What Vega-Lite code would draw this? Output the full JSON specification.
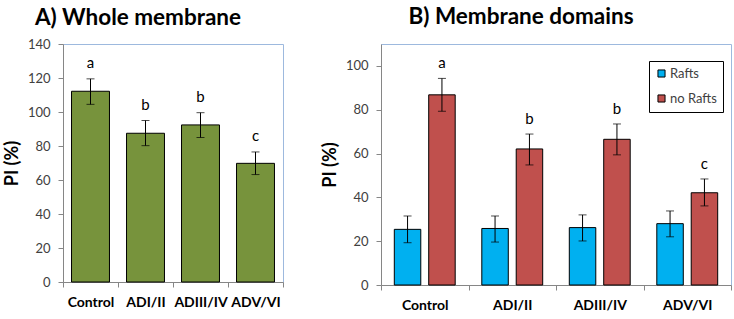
{
  "$schema": "https://vega.github.io/schema/vega-lite/v6.json",
  "background": "white",
  "padding": {"left": 2, "top": 5, "right": 5, "bottom": 5},
  "spacing": 36,
  "resolve": {"scale": {"color": "independent"}, "legend": {"color": "independent"}},
  "config": {
    "font": "Lato",
    "view": {"stroke": "#9DB9DE", "strokeWidth": 1},
    "axis": {"grid": false, "domainColor": "#868686", "tickColor": "#868686", "tickSize": 5, "labelColor": "#404040", "labelOverlap": false},
    "title": {"fontSize": 22.5, "fontWeight": "bold", "color": "#000000", "anchor": "middle", "frame": "group"}
  },
  "hconcat": [
    {
      "title": {"text": "A) Whole membrane", "dx": -35, "offset": 9},
      "width": 220,
      "height": 238,
      "data": {"values": [
        {"group": "Control", "pi": 112.2, "lo": 104.5, "hi": 119.5, "letter": "a"},
        {"group": "ADI/II", "pi": 87.5, "lo": 80.2, "hi": 95.0, "letter": "b"},
        {"group": "ADIII/IV", "pi": 92.4, "lo": 85.0, "hi": 99.6, "letter": "b"},
        {"group": "ADV/VI", "pi": 69.8, "lo": 63.2, "hi": 76.5, "letter": "c"}
      ]},
      "encoding": {
        "x": {"field": "group", "type": "nominal", "sort": null,
          "scale": {"paddingInner": 0, "paddingOuter": 0},
          "axis": {"title": null, "labelAngle": 0, "tickBand": "extent", "labelFontSize": 14, "labelFontWeight": "bold", "labelColor": "#000000", "labelPadding": 8}}
      },
      "layer": [
        {
          "mark": {"type": "bar", "color": "#77933C", "stroke": "#000000", "strokeWidth": 1, "width": {"band": 0.69}},
          "encoding": {
            "y": {"field": "pi", "type": "quantitative",
              "scale": {"domain": [0, 140], "nice": false},
              "axis": {"values": [0, 20, 40, 60, 80, 100, 120, 140], "title": "PI (%)", "titleFontSize": 18, "titleFontWeight": "bold", "titleColor": "#000000", "labelFontSize": 13, "titlePadding": 6, "labelPadding": 8, "labelOverlap": false}}
          }
        },
        {
          "mark": {"type": "rule", "color": "#000000", "strokeWidth": 1},
          "encoding": {"y": {"field": "lo", "type": "quantitative", "axis": {"values": [0, 20, 40, 60, 80, 100, 120, 140], "title": "PI (%)", "titleFontSize": 18, "titleFontWeight": "bold", "titleColor": "#000000", "labelFontSize": 13, "titlePadding": 6, "labelPadding": 8, "labelOverlap": false}}, "y2": {"field": "hi"}}
        },
        {
          "mark": {"type": "tick", "color": "#000000", "thickness": 1, "size": 8},
          "encoding": {"y": {"field": "lo", "type": "quantitative", "axis": {"values": [0, 20, 40, 60, 80, 100, 120, 140], "title": "PI (%)", "titleFontSize": 18, "titleFontWeight": "bold", "titleColor": "#000000", "labelFontSize": 13, "titlePadding": 6, "labelPadding": 8, "labelOverlap": false}}}
        },
        {
          "mark": {"type": "tick", "color": "#000000", "thickness": 1, "size": 8},
          "encoding": {"y": {"field": "hi", "type": "quantitative", "axis": {"values": [0, 20, 40, 60, 80, 100, 120, 140], "title": "PI (%)", "titleFontSize": 18, "titleFontWeight": "bold", "titleColor": "#000000", "labelFontSize": 13, "titlePadding": 6, "labelPadding": 8, "labelOverlap": false}}}
        },
        {
          "mark": {"type": "text", "dy": -16, "fontSize": 15, "color": "#000000", "baseline": "middle"},
          "encoding": {"y": {"field": "hi", "type": "quantitative", "axis": {"values": [0, 20, 40, 60, 80, 100, 120, 140], "title": "PI (%)", "titleFontSize": 18, "titleFontWeight": "bold", "titleColor": "#000000", "labelFontSize": 13, "titlePadding": 6, "labelPadding": 8, "labelOverlap": false}}, "text": {"field": "letter"}}
        }
      ]
    },
    {
      "title": {"text": "B) Membrane domains", "dx": -35, "offset": 16},
      "width": 350,
      "height": 241,
      "data": {"values": [
        {"group": "Control", "type": "Rafts", "pi": 25.4, "lo": 19.3, "hi": 31.5, "letter": ""},
        {"group": "Control", "type": "no Rafts", "pi": 86.8, "lo": 79.3, "hi": 94.3, "letter": "a"},
        {"group": "ADI/II", "type": "Rafts", "pi": 25.8, "lo": 19.6, "hi": 31.5, "letter": ""},
        {"group": "ADI/II", "type": "no Rafts", "pi": 62.1, "lo": 54.8, "hi": 68.9, "letter": "b"},
        {"group": "ADIII/IV", "type": "Rafts", "pi": 26.2, "lo": 20.1, "hi": 32.0, "letter": ""},
        {"group": "ADIII/IV", "type": "no Rafts", "pi": 66.5, "lo": 59.4, "hi": 73.5, "letter": "b"},
        {"group": "ADV/VI", "type": "Rafts", "pi": 28.0, "lo": 22.0, "hi": 33.8, "letter": ""},
        {"group": "ADV/VI", "type": "no Rafts", "pi": 42.1, "lo": 36.1, "hi": 48.4, "letter": "c"}
      ]},
      "encoding": {
        "x": {"field": "group", "type": "nominal", "sort": null,
          "scale": {"paddingInner": 0, "paddingOuter": 0},
          "axis": {"title": null, "labelAngle": 0, "tickBand": "extent", "labelFontSize": 14, "labelFontWeight": "bold", "labelColor": "#000000", "labelPadding": 8}},
        "xOffset": {"field": "type", "type": "nominal", "sort": ["Rafts", "no Rafts"],
          "scale": {"paddingInner": 0.23, "paddingOuter": 0.387}}
      },
      "layer": [
        {
          "mark": {"type": "bar", "stroke": "#000000", "strokeWidth": 1},
          "encoding": {
            "y": {"field": "pi", "type": "quantitative",
              "scale": {"domain": [0, 110], "nice": false},
              "axis": {"values": [0, 20, 40, 60, 80, 100], "title": "PI (%)", "titleFontSize": 18, "titleFontWeight": "bold", "titleColor": "#000000", "labelFontSize": 13, "titlePadding": 6, "labelPadding": 8, "labelOverlap": false}},
            "color": {"field": "type", "type": "nominal", "sort": ["Rafts", "no Rafts"],
              "scale": {"domain": ["Rafts", "no Rafts"], "range": ["#00B0F0", "#C0504D"]},
              "legend": {"title": null, "orient": "none", "legendX": 268, "legendY": 17, "strokeColor": "#000000", "padding": 6, "symbolType": "square", "symbolSize": 50, "symbolStrokeColor": "#000000", "symbolStrokeWidth": 1, "symbolOpacity": 1, "labelFontSize": 13, "labelColor": "#404040", "rowPadding": 11, "labelOffset": 2, "fillColor": "white"}}
          }
        },
        {
          "mark": {"type": "rule", "color": "#000000", "strokeWidth": 1},
          "encoding": {"y": {"field": "lo", "type": "quantitative", "axis": {"values": [0, 20, 40, 60, 80, 100], "title": "PI (%)", "titleFontSize": 18, "titleFontWeight": "bold", "titleColor": "#000000", "labelFontSize": 13, "titlePadding": 6, "labelPadding": 8, "labelOverlap": false}}, "y2": {"field": "hi"}}
        },
        {
          "mark": {"type": "tick", "color": "#000000", "thickness": 1, "size": 8},
          "encoding": {"y": {"field": "lo", "type": "quantitative", "axis": {"values": [0, 20, 40, 60, 80, 100], "title": "PI (%)", "titleFontSize": 18, "titleFontWeight": "bold", "titleColor": "#000000", "labelFontSize": 13, "titlePadding": 6, "labelPadding": 8, "labelOverlap": false}}}
        },
        {
          "mark": {"type": "tick", "color": "#000000", "thickness": 1, "size": 8},
          "encoding": {"y": {"field": "hi", "type": "quantitative", "axis": {"values": [0, 20, 40, 60, 80, 100], "title": "PI (%)", "titleFontSize": 18, "titleFontWeight": "bold", "titleColor": "#000000", "labelFontSize": 13, "titlePadding": 6, "labelPadding": 8, "labelOverlap": false}}}
        },
        {
          "mark": {"type": "text", "dy": -15, "fontSize": 15, "color": "#000000", "baseline": "middle"},
          "encoding": {"y": {"field": "hi", "type": "quantitative", "axis": {"values": [0, 20, 40, 60, 80, 100], "title": "PI (%)", "titleFontSize": 18, "titleFontWeight": "bold", "titleColor": "#000000", "labelFontSize": 13, "titlePadding": 6, "labelPadding": 8, "labelOverlap": false}}, "text": {"field": "letter"}}
        }
      ]
    }
  ]
}
